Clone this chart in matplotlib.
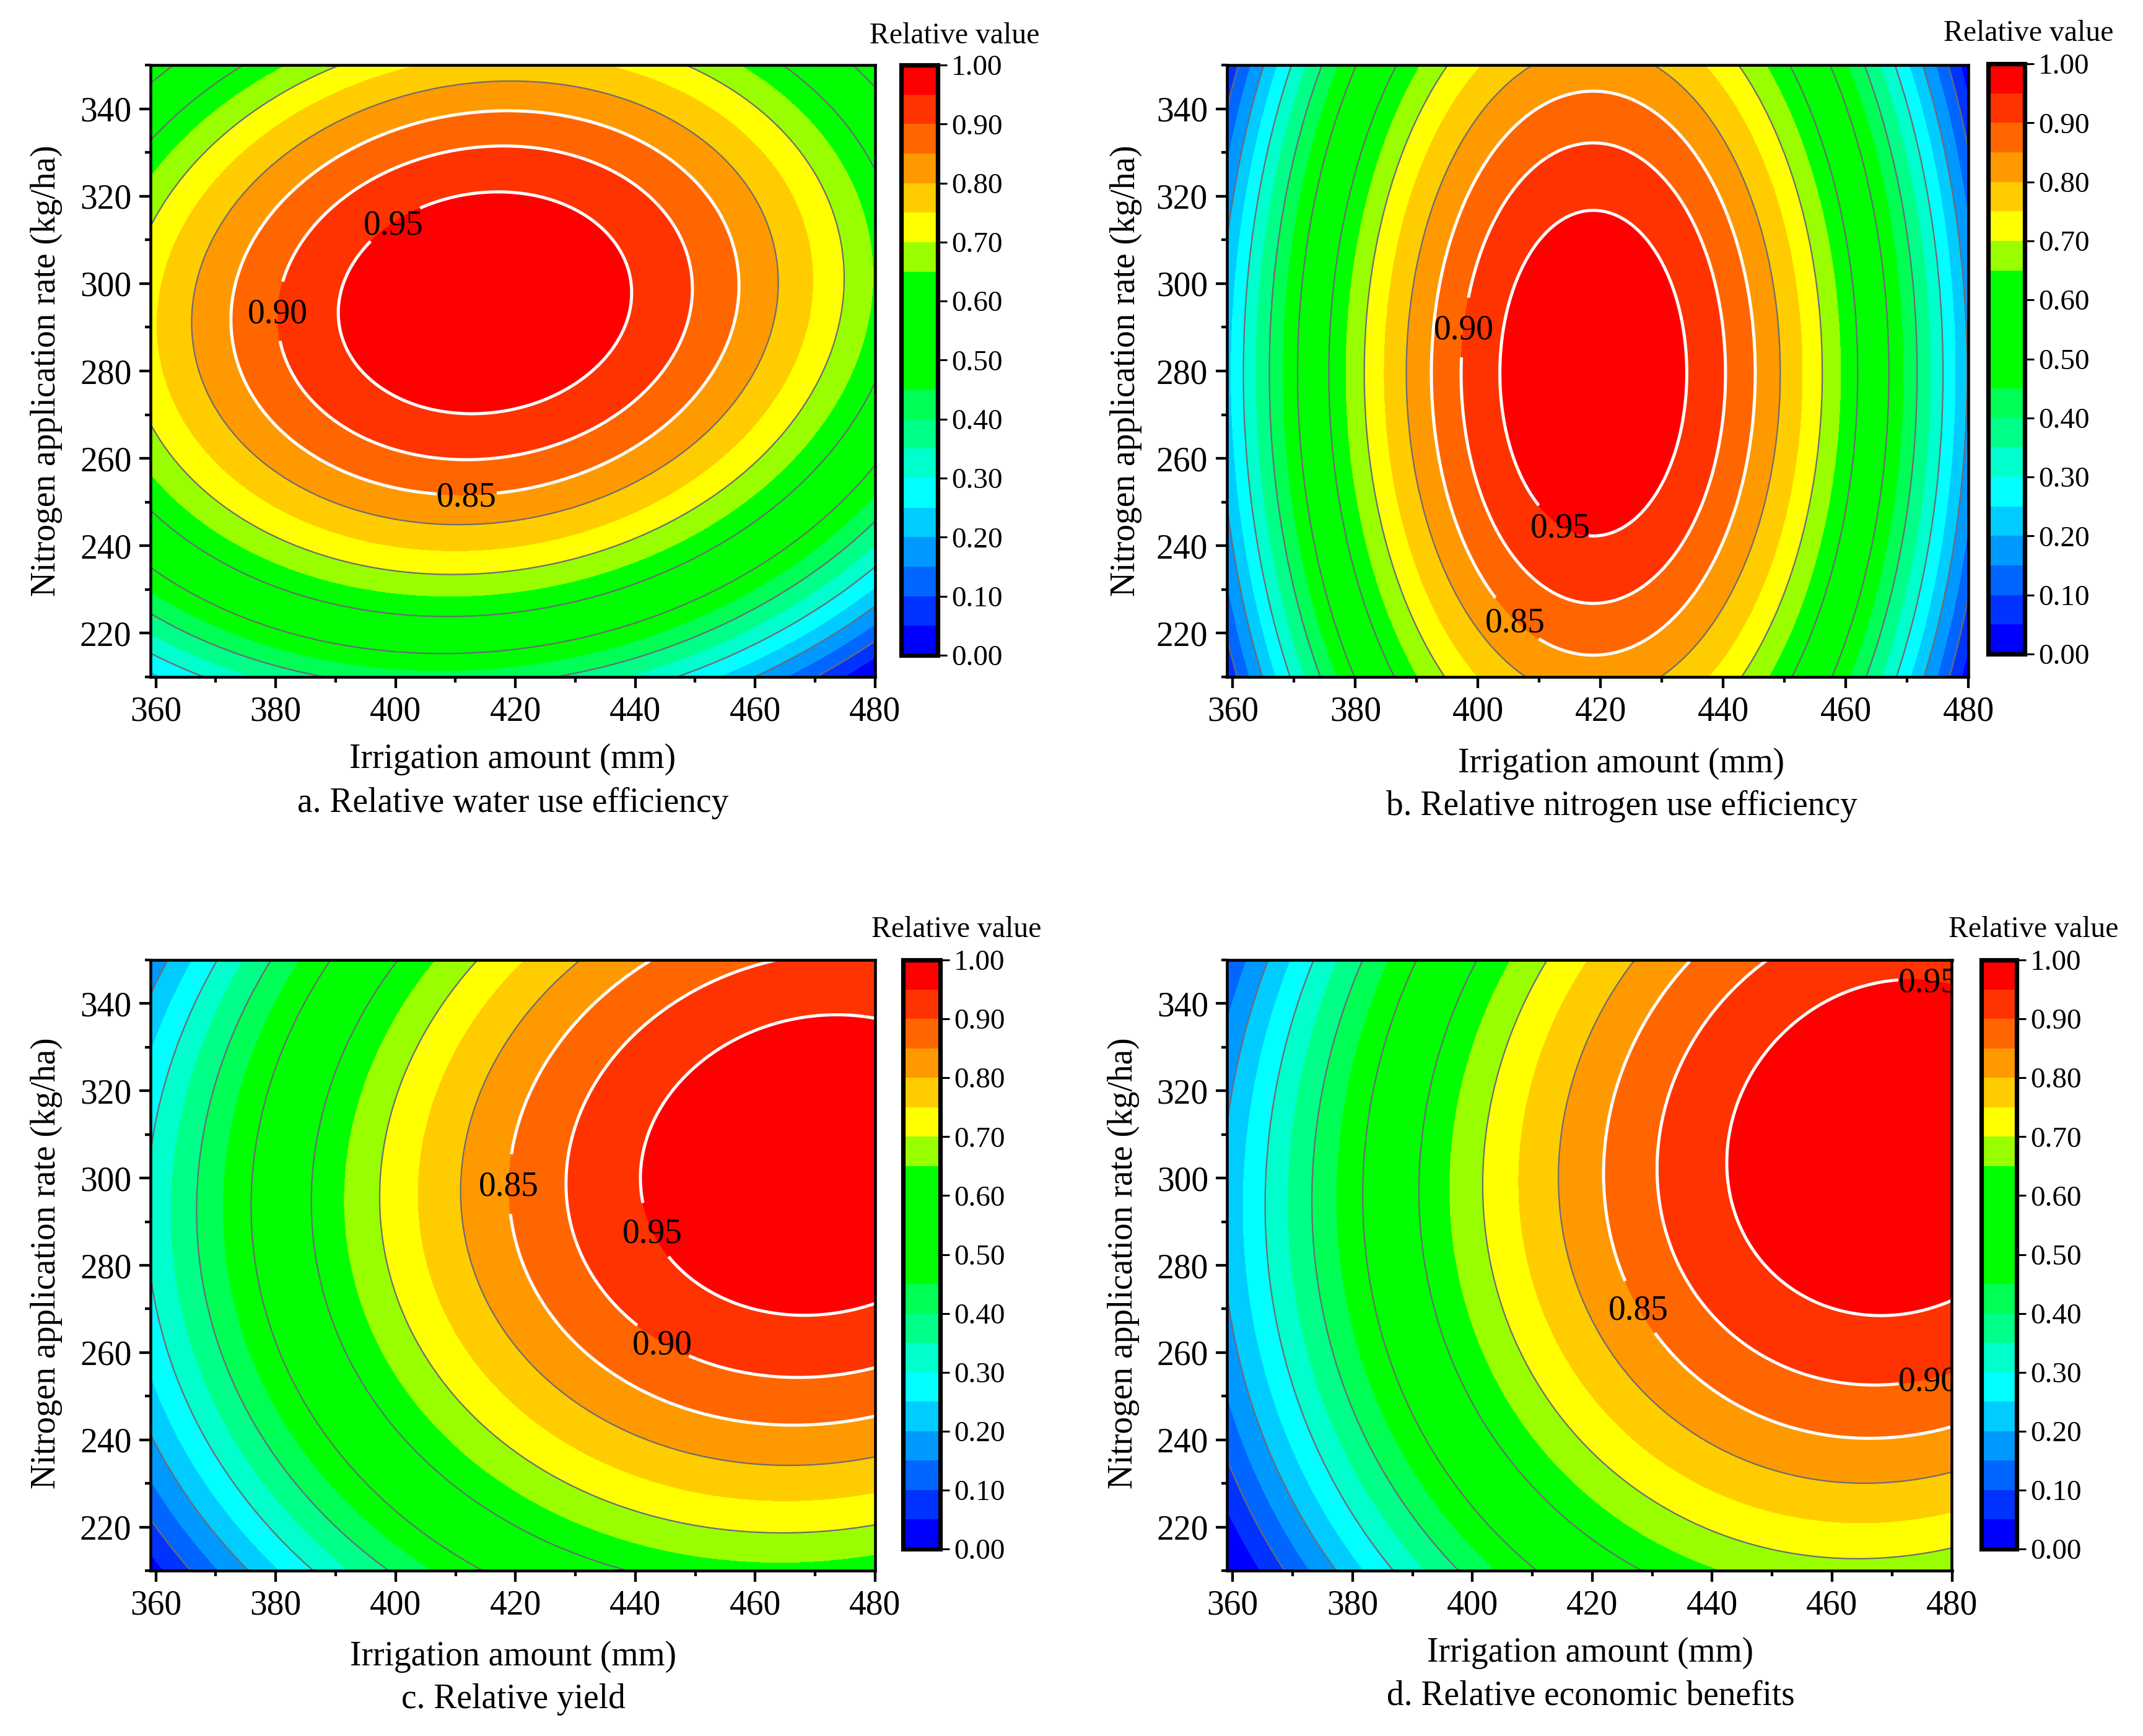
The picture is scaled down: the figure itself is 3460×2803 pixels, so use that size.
import numpy as np
import matplotlib
matplotlib.use('Agg')
import matplotlib.pyplot as plt
from matplotlib.cm import ScalarMappable
from matplotlib.colors import BoundaryNorm, ListedColormap
from matplotlib.ticker import FormatStrFormatter, MultipleLocator
from numpy.polynomial import polynomial as P

plt.rcParams['font.family'] = ['Liberation Serif', 'DejaVu Serif']

W, H = 3460, 2803

# values, rows follow y_grid, columns follow x_grid
x_grid = [359, 380, 400, 420, 440, 460, 480]
y_grid = [210, 238, 266, 294, 322, 350]

water_eff = [
    [0.233, 0.368, 0.426, 0.418, 0.342, 0.199, -0.012],
    [0.524, 0.667, 0.734, 0.734, 0.666, 0.531, 0.329],
    [0.692, 0.844, 0.919, 0.927, 0.868, 0.741, 0.547],
    [0.738, 0.898, 0.981, 0.998, 0.946, 0.828, 0.642],
    [0.661, 0.830, 0.921, 0.945, 0.902, 0.792, 0.614],
    [0.461, 0.638, 0.738, 0.770, 0.735, 0.633, 0.464],
]
nitrogen_eff = [
    [0.057, 0.502, 0.750, 0.826, 0.729, 0.461, 0.021],
    [0.169, 0.614, 0.862, 0.938, 0.841, 0.573, 0.133],
    [0.225, 0.670, 0.917, 0.993, 0.897, 0.629, 0.188],
    [0.224, 0.669, 0.916, 0.992, 0.896, 0.628, 0.187],
    [0.166, 0.611, 0.859, 0.935, 0.838, 0.570, 0.130],
    [0.052, 0.497, 0.745, 0.821, 0.724, 0.456, 0.016],
]
rel_yield = [
    [0.023, 0.244, 0.408, 0.528, 0.604, 0.634, 0.621],
    [0.184, 0.410, 0.579, 0.704, 0.784, 0.820, 0.811],
    [0.279, 0.509, 0.684, 0.813, 0.898, 0.939, 0.934],
    [0.307, 0.542, 0.721, 0.856, 0.946, 0.991, 0.991],
    [0.268, 0.509, 0.692, 0.832, 0.926, 0.976, 0.982],
    [0.162, 0.408, 0.597, 0.741, 0.840, 0.895, 0.905],
]
econ_benefit = [
    [-0.023, 0.230, 0.419, 0.558, 0.645, 0.681, 0.666],
    [0.109, 0.367, 0.561, 0.704, 0.796, 0.837, 0.827],
    [0.187, 0.451, 0.649, 0.797, 0.894, 0.939, 0.934],
    [0.212, 0.481, 0.684, 0.837, 0.938, 0.988, 0.988],
    [0.183, 0.457, 0.665, 0.823, 0.929, 0.984, 0.988],
    [0.102, 0.380, 0.593, 0.755, 0.866, 0.926, 0.935],
]

band_colors = ['#0000FF', '#0033FF', '#0066FF', '#0099FF', '#00CCFF', '#00FFFF',
               '#00FFCC', '#00FF88', '#00FF55', '#00FF00', '#00FF00', '#00FF00',
               '#00FF00', '#99FF00', '#FFFF00', '#FFCC00', '#FF9900', '#FF6600',
               '#FF3300', '#FF0000']
bar_edges = [i * 0.05 for i in range(21)]
bar_ticks = [i * 0.1 for i in range(11)]
grey_levels = [0.1, 0.2, 0.3, 0.4, 0.5, 0.6, 0.7, 0.8]
white_levels = [0.85, 0.90, 0.95]

# px = left, right, top, bottom of the axes, bar = same for the colour bar
panels = [
    dict(z=water_eff, px=(243, 1412.5, 105, 1093), xmin=359.1, bar=(1454.5, 1514, 105, 1058),
         head=(1541, 58), xlab=(828, 1226), cap=(828, 1297), ylab=(75, 599),
         caption='a. Relative water use efficiency',
         labels=[(399.8, 313.8), (380.3, 293.7), (411.9, 251.2)]),
    dict(z=nitrogen_eff, px=(1980.5, 3178, 105, 1093), xmin=359.0, bar=(3210, 3269, 103, 1056),
         head=(3275, 54), xlab=(2618, 1233), cap=(2618, 1302), ylab=(1818, 599),
         caption='b. Relative nitrogen use efficiency',
         labels=[(413.3, 244.2), (397.5, 290.0), (405.9, 222.7)]),
    dict(z=rel_yield, px=(243, 1413, 1550, 2536), xmin=359.1, bar=(1458, 1518, 1550, 2501),
         head=(1544, 1501), xlab=(829, 2675), cap=(829, 2744), ylab=(75, 2040),
         caption='c. Relative yield',
         labels=[(443.0, 287.9), (444.5, 262.5), (419.5, 298.6)]),
    dict(z=econ_benefit, px=(1981.5, 3151.5, 1550, 2536), xmin=359.1, bar=(3199, 3256, 1550, 2501),
         head=(3283, 1501), xlab=(2568, 2669), cap=(2568, 2739), ylab=(1814, 2040),
         caption='d. Relative economic benefits',
         labels=[(476.0, 344.6), (476.0, 254.3), (427.3, 269.9)]),
]


def px_rect(box):
    left, right, top, bottom = box
    return [left / W, 1 - bottom / H, (right - left) / W, (bottom - top) / H]


def smooth_surface(z, fine_x, fine_y):
    # response surface through the read values, cubic along each axis
    z = np.array(z)
    u = np.array(x_grid) - 420.0
    v = np.array(y_grid) - 280.0
    along_y = P.polyval(fine_y - 280.0, P.polyfit(v, z, 3))
    return P.polyval(fine_x - 420.0, P.polyfit(u, along_y, 3))


fig = plt.figure(figsize=(W / 100, H / 100), dpi=100)
fine_x = np.linspace(359, 480, 485)
fine_y = np.linspace(210, 350, 561)
fill_levels = [-1.0] + bar_edges[1:-1] + [1.5]

for p in panels:
    ax = fig.add_axes(px_rect(p['px']))
    z_f = smooth_surface(p['z'], fine_x, fine_y)

    ax.contourf(fine_x, fine_y, z_f, levels=fill_levels, colors=band_colors)
    ax.contour(fine_x, fine_y, z_f, levels=grey_levels, colors='#6b6b73', linewidths=1.6)
    cs = ax.contour(fine_x, fine_y, z_f, levels=white_levels, colors='white', linewidths=3.6)
    ax.set_xlim(p['xmin'], 480)
    ax.set_ylim(210, 350)
    texts = ax.clabel(cs, fmt='%.2f', fontsize=40, colors='black', inline=True,
                      inline_spacing=0, manual=p['labels'])
    for t in texts:
        t.set_transform_rotates_text(False)
        t.set_rotation(0)
        t.set_clip_on(True)
        t.set_clip_box(ax.bbox)
        # sit a little lower on the gap
        tx, ty = t.get_position()
        t.set_position((tx, ty - 0.7))

    ax.xaxis.set_major_locator(MultipleLocator(20))
    ax.xaxis.set_minor_locator(MultipleLocator(10))
    ax.yaxis.set_major_locator(MultipleLocator(20))
    ax.yaxis.set_minor_locator(MultipleLocator(10))
    ax.tick_params(which='major', direction='out', length=13, width=3.1, labelsize=40, pad=9)
    ax.tick_params(which='minor', direction='out', length=6.5, width=3.1)
    for s in ax.spines.values():
        s.set_linewidth(3.3)

    cax = fig.add_axes(px_rect(p['bar']))
    sm = ScalarMappable(norm=BoundaryNorm(bar_edges, 20), cmap=ListedColormap(band_colors))
    cb = fig.colorbar(sm, cax=cax, spacing='uniform', ticks=bar_ticks, drawedges=False)
    cb.outline.set_linewidth(5.2)
    cb.ax.yaxis.set_major_formatter(FormatStrFormatter('%.2f'))
    cb.ax.minorticks_off()
    cb.ax.tick_params(direction='out', length=11, width=2.2, labelsize=34, pad=5)

    fig.text(p['head'][0] / W, 1 - p['head'][1] / H, 'Relative value', fontsize=34.4,
             ha='center', va='center')
    fig.text(p['xlab'][0] / W, 1 - p['xlab'][1] / H, 'Irrigation amount (mm)', fontsize=40,
             ha='center', va='center')
    fig.text(p['cap'][0] / W, 1 - p['cap'][1] / H, p['caption'], fontsize=40,
             ha='center', va='center')
    fig.text(p['ylab'][0] / W, 1 - p['ylab'][1] / H, 'Nitrogen application rate (kg/ha)',
             fontsize=40, rotation=90, ha='center', va='center')

fig.savefig('out.png', dpi=100)
